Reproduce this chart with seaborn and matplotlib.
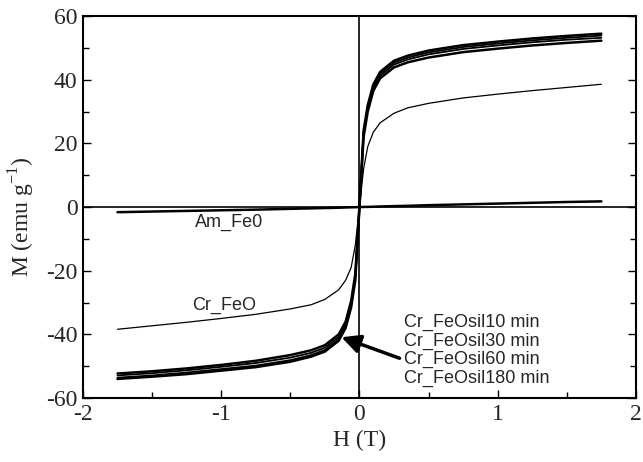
import numpy as np
import pandas as pd
import matplotlib
matplotlib.use("Agg")
import matplotlib.pyplot as plt
import seaborn as sns
from matplotlib.ticker import MultipleLocator

H = [-1.75, -1.5, -1.25, -1.0, -0.75, -0.5, -0.35, -0.25, -0.15, -0.1, -0.06, -0.03, 0.0,
     0.03, 0.06, 0.1, 0.15, 0.25, 0.35, 0.5, 0.75, 1.0, 1.25, 1.5, 1.75]

M_sil10 = [-54.0, -53.3, -52.5, -51.4, -50.3, -48.6, -47.0, -45.4, -42.0, -38.0, -31.5, -23.0, 0.0,
           24.0, 32.0, 38.5, 42.5, 46.0, 47.6, 49.2, 50.9, 52.0, 53.0, 53.8, 54.5]
M_sil30 = [-53.6, -52.9, -52.0, -50.9, -49.8, -48.1, -46.5, -44.9, -41.5, -37.5, -31.0, -22.5, 0.0,
           23.0, 31.5, 38.0, 42.0, 45.4, 47.0, 48.6, 50.3, 51.4, 52.4, 53.2, 53.9]
M_sil60 = [-52.9, -52.2, -51.3, -50.2, -49.0, -47.3, -45.8, -44.2, -40.8, -36.8, -30.3, -22.0, 0.0,
           23.0, 31.0, 37.5, 41.3, 44.8, 46.4, 48.0, 49.7, 50.8, 51.8, 52.6, 53.2]
M_sil180 = [-52.3, -51.6, -50.7, -49.6, -48.3, -46.5, -45.0, -43.4, -40.0, -36.0, -29.5, -21.0, 0.0,
            22.0, 30.0, 36.5, 40.5, 43.9, 45.5, 47.0, 48.7, 49.8, 50.8, 51.6, 52.3]
M_CrFeO = [-38.4, -37.3, -36.2, -35.0, -33.7, -32.0, -30.7, -29.0, -26.0, -23.0, -19.0, -12.0, 0.0,
           12.0, 19.0, 23.5, 26.5, 29.5, 31.2, 32.6, 34.3, 35.5, 36.6, 37.6, 38.6]
M_AmFe0 = [-1.6, -1.4, -1.2, -1.0, -0.8, -0.55, -0.4, -0.3, -0.2, -0.12, -0.07, -0.04, 0.0,
           0.04, 0.07, 0.12, 0.2, 0.3, 0.4, 0.6, 0.85, 1.1, 1.35, 1.6, 1.8]

series = {
    "Cr_FeOsil10 min": M_sil10,
    "Cr_FeOsil30 min": M_sil30,
    "Cr_FeOsil60 min": M_sil60,
    "Cr_FeOsil180 min": M_sil180,
    "Cr_FeO": M_CrFeO,
    "Am_Fe0": M_AmFe0,
}
widths = {
    "Cr_FeOsil10 min": 1.8,
    "Cr_FeOsil30 min": 1.3,
    "Cr_FeOsil60 min": 1.3,
    "Cr_FeOsil180 min": 1.8,
    "Cr_FeO": 0.9,
    "Am_Fe0": 1.8,
}

df = pd.concat([pd.DataFrame({"H": H, "M": v, "sample": k}) for k, v in series.items()],
               ignore_index=True)

sns.set_theme(style="ticks")
plt.rcParams["font.family"] = ["Liberation Serif", "DejaVu Serif"]
plt.rcParams["mathtext.fontset"] = "custom"
plt.rcParams["mathtext.rm"] = "Liberation Serif"
plt.rcParams["axes.unicode_minus"] = False

fig = plt.figure(figsize=(6.43, 4.62), dpi=100)
ax = fig.add_axes([0.129, 0.1385, 0.860, 0.8265])

for name in series:
    sub = df[df["sample"] == name]
    sns.lineplot(data=sub, x="H", y="M", ax=ax, color="black",
                 linewidth=widths[name], estimator=None, sort=False, legend=False)

ax.axhline(0, color="black", lw=1.2, zorder=0)
ax.axvline(0, color="black", lw=1.2, zorder=0)

ax.set_xlim(-2, 2)
ax.set_ylim(-60, 60)
ax.xaxis.set_major_locator(MultipleLocator(1))
ax.xaxis.set_minor_locator(MultipleLocator(0.5))
ax.yaxis.set_major_locator(MultipleLocator(20))
ax.yaxis.set_minor_locator(MultipleLocator(10))
ax.tick_params(which="both", direction="in", right=True, top=False, color="black",
               labelsize=17, pad=4)
ax.tick_params(which="major", length=6, width=1.0)
ax.tick_params(which="minor", length=4, width=1.0)
for s in ax.spines.values():
    s.set_linewidth(1.5)
    s.set_color("black")

ax.set_xlabel("H (T)", fontsize=17, labelpad=4)
ax.set_ylabel("M (emu g$^{\\mathrm{-1}}$)", fontsize=17)
ax.yaxis.set_label_coords(-0.083, 0.474)

sans = ["Liberation Sans", "DejaVu Sans"]
FS = 13
ax.text(-1.19, -6.3, "Am_Fe0", fontsize=FS, family=sans, va="baseline", ha="left")
ax.text(-1.21, -32.4, "Cr_FeO", fontsize=FS, family=sans, va="baseline", ha="left")

lab_names = ["Cr_FeOsil10 min", "Cr_FeOsil30 min", "Cr_FeOsil60 min", "Cr_FeOsil180 min"]
lab_y = [-37.7, -43.6, -49.3, -55.2]
for name, yv in zip(lab_names, lab_y):
    ax.text(0.325, yv, name, fontsize=FS, family=sans, va="baseline", ha="left")

ax.annotate("", xy=(-0.13, -40.9), xytext=(0.29, -47.5),
            arrowprops=dict(arrowstyle="-|>", lw=2.5, mutation_scale=28, color="black",
                            shrinkA=0, shrinkB=0))

fig.savefig("out.png", dpi=100)
